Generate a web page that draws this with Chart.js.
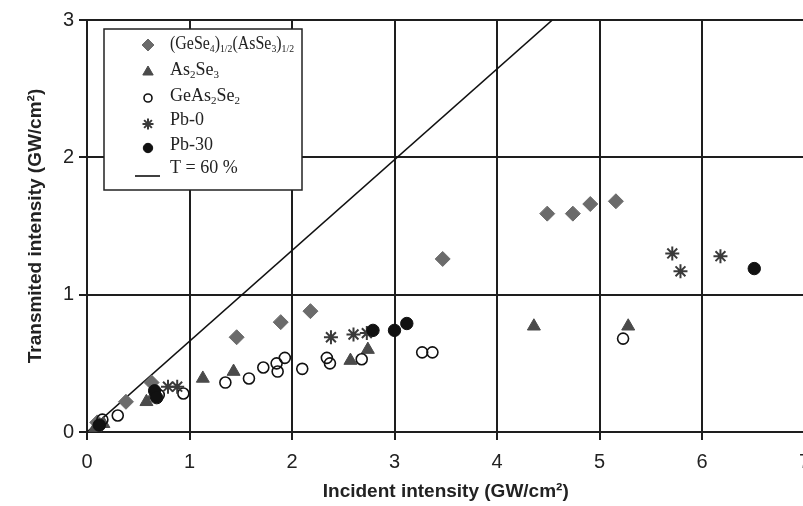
<!DOCTYPE html>
<html>
<head>
<meta charset="utf-8">
<script src="https://cdn.jsdelivr.net/npm/chart.js@4.4.1/dist/chart.umd.min.js"></script>
<style>
  html, body { margin: 0; padding: 0; overflow: hidden; background: #fff; }
  #wrap { width: 830px; height: 506px; position: relative; }
</style>
</head>
<body>
<div id="wrap"><canvas id="c"></canvas></div>
<script>
// ---- data ----
const xTicks = [0, 1, 2, 3, 4, 5, 6, 7];
const yTicks = [0, 1, 2, 3];

const seriesNames = [
  "(GeSe_{4})_{1/2}(AsSe_{3})_{1/2}",
  "As_{2}Se_{3}",
  "GeAs_{2}Se_{2}",
  "Pb-0",
  "Pb-30",
  "T = 60 %"
];

const gesX = [0.10, 0.38, 0.63, 1.46, 1.89, 2.18, 3.47, 4.49, 4.74, 4.91, 5.16];
const gesY = [0.07, 0.22, 0.36, 0.69, 0.80, 0.88, 1.26, 1.59, 1.59, 1.66, 1.68];

const asX = [0.08, 0.16, 0.58, 0.65, 1.13, 1.43, 2.57, 2.74, 4.36, 5.28];
const asY = [0.03, 0.06, 0.22, 0.27, 0.39, 0.44, 0.52, 0.60, 0.77, 0.77];

const geAsX = [0.15, 0.30, 0.70, 0.94, 1.35, 1.58, 1.72, 1.85, 1.86, 1.93, 2.10, 2.34, 2.37, 2.68, 3.27, 3.37, 5.23];
const geAsY = [0.09, 0.12, 0.27, 0.28, 0.36, 0.39, 0.47, 0.50, 0.44, 0.54, 0.46, 0.54, 0.50, 0.53, 0.58, 0.58, 0.68];

const pb0X = [0.79, 0.88, 2.38, 2.60, 2.73, 5.71, 5.79, 6.18];
const pb0Y = [0.33, 0.33, 0.69, 0.71, 0.72, 1.30, 1.17, 1.28];

const pb30X = [0.12, 0.66, 0.68, 2.79, 3.00, 3.12, 6.51];
const pb30Y = [0.05, 0.30, 0.25, 0.74, 0.74, 0.79, 1.19];

const lineX = [0, 4.54];
const lineY = [0, 3];

const xTitle = "Incident intensity (GW/cm\u00B2)";
const yTitle = "Transmited intensity (GW/cm\u00B2)";

// ---- build ----
function pts(xs, ys) { return xs.map((x, i) => ({ x: x, y: ys[i] })); }

const styles = [
  { pointStyle: 'rectRot', radius: 7.5, bg: '#6b6b6b', bc: '#6b6b6b', bw: 1 },
  { pointStyle: 'triangle', radius: 7.5, bg: '#4a4a4a', bc: '#4a4a4a', bw: 1 },
  { pointStyle: 'circle', radius: 5.5, bg: 'rgba(0,0,0,0)', bc: '#111', bw: 1.6 },
  { pointStyle: 'star', radius: 7, bg: 'rgba(0,0,0,0)', bc: '#3a3a3a', bw: 2 },
  { pointStyle: 'circle', radius: 6.2, bg: '#111', bc: '#111', bw: 1 }
];
const seriesData = [pts(gesX, gesY), pts(asX, asY), pts(geAsX, geAsY), pts(pb0X, pb0Y), pts(pb30X, pb30Y)];

const datasets = seriesData.map((d, i) => ({
  label: seriesNames[i],
  data: d,
  pointStyle: styles[i].pointStyle,
  pointRadius: styles[i].radius,
  pointBackgroundColor: styles[i].bg,
  pointBorderColor: styles[i].bc,
  pointBorderWidth: styles[i].bw,
  showLine: false,
  order: 5 - i
}));
datasets.push({
  label: seriesNames[5],
  data: pts(lineX, lineY),
  showLine: true,
  borderColor: '#111',
  borderWidth: 1.6,
  pointRadius: 0,
  order: 10
});

function parseRuns(s) {
  const runs = [];
  const re = /_\{([^}]*)\}/g;
  let last = 0, m;
  while ((m = re.exec(s)) !== null) {
    if (m.index > last) runs.push({ t: s.slice(last, m.index), sub: false });
    runs.push({ t: m[1], sub: true });
    last = re.lastIndex;
  }
  if (last < s.length) runs.push({ t: s.slice(last), sub: false });
  return runs;
}

const legendPlugin = {
  id: 'customLegend',
  afterDraw(chart) {
    const ctx = chart.ctx;
    ctx.save();
    const bx = 104, by = 29, bw = 198, bh = 161;
    ctx.fillStyle = '#fff';
    ctx.fillRect(bx, by, bw, bh);
    ctx.strokeStyle = '#222';
    ctx.lineWidth = 1.5;
    ctx.strokeRect(bx, by, bw, bh);

    const markY = [45, 72, 98, 124, 148];
    const textY = [44, 70, 96, 120, 145, 168];
    const mx = 148, tx = 170, maxW = 124;
    for (let i = 0; i < 5; i++) {
      const st = styles[i];
      ctx.fillStyle = st.bg;
      ctx.strokeStyle = st.bc;
      ctx.lineWidth = st.bw;
      Chart.helpers.drawPoint(ctx, { pointStyle: st.pointStyle, radius: st.radius - 1.5, rotation: 0, borderWidth: st.bw }, mx, markY[i]);
    }
    ctx.strokeStyle = '#111';
    ctx.lineWidth = 1.6;
    ctx.beginPath();
    ctx.moveTo(135, 176);
    ctx.lineTo(160, 176);
    ctx.stroke();

    const fs = 18, sfs = 11;
    ctx.fillStyle = '#222';
    ctx.textBaseline = 'middle';
    ctx.textAlign = 'left';
    const fontOf = sub => (sub ? sfs : fs) + 'px "Liberation Serif", "DejaVu Serif", serif';
    for (let i = 0; i < seriesNames.length; i++) {
      const runs = parseRuns(seriesNames[i]);
      let total = 0;
      runs.forEach(r => { ctx.font = fontOf(r.sub); total += ctx.measureText(r.t).width; });
      const k = total > maxW ? maxW / total : 1;
      ctx.save();
      ctx.translate(tx, 0);
      ctx.scale(k, 1);
      let x = 0;
      runs.forEach(r => {
        ctx.font = fontOf(r.sub);
        ctx.fillText(r.t, x, textY[i] + (r.sub ? 5 : 0));
        x += ctx.measureText(r.t).width;
      });
      ctx.restore();
    }
    ctx.restore();
  }
};

const gridColor = '#1e1e1e';

new Chart(document.getElementById('c'), {
  type: 'scatter',
  data: { datasets: datasets },
  plugins: [legendPlugin],
  options: {
    responsive: true,
    maintainAspectRatio: false,
    animation: false,
    layout: { padding: { top: 20, right: 25.5, left: 0, bottom: 0 } },
    plugins: { legend: { display: false }, tooltip: { enabled: false } },
    scales: {
      x: {
        type: 'linear', min: 0, max: 7,
        afterFit(s) { s.height = 74; },
        afterBuildTicks(s) { s.ticks = xTicks.map(v => ({ value: v })); },
        grid: { color: gridColor, lineWidth: 2, tickLength: 8, drawTicks: true },
        border: { color: gridColor, width: 2 },
        ticks: { color: '#222', padding: 10, font: { family: '"Liberation Sans", Arial, sans-serif', size: 20 }, maxRotation: 0 },
        title: { display: true, text: xTitle, color: '#222', padding: { top: 0, bottom: 3 },
                 font: { family: '"Liberation Sans", Arial, sans-serif', size: 19, weight: 'bold', lineHeight: 1.2 } }
      },
      y: {
        type: 'linear', min: 0, max: 3,
        afterFit(s) { s.width = 87; },
        afterBuildTicks(s) { s.ticks = yTicks.map(v => ({ value: v })); },
        grid: { color: gridColor, lineWidth: 2, tickLength: 8, drawTicks: true },
        border: { color: gridColor, width: 2 },
        ticks: { color: '#222', padding: 5, font: { family: '"Liberation Sans", Arial, sans-serif', size: 20 } },
        title: { display: true, text: yTitle, color: '#222', padding: { top: 24, bottom: 0 },
                 font: { family: '"Liberation Sans", Arial, sans-serif', size: 19, weight: 'bold', lineHeight: 1.2 } }
      }
    }
  }
});
</script>
</body>
</html>
